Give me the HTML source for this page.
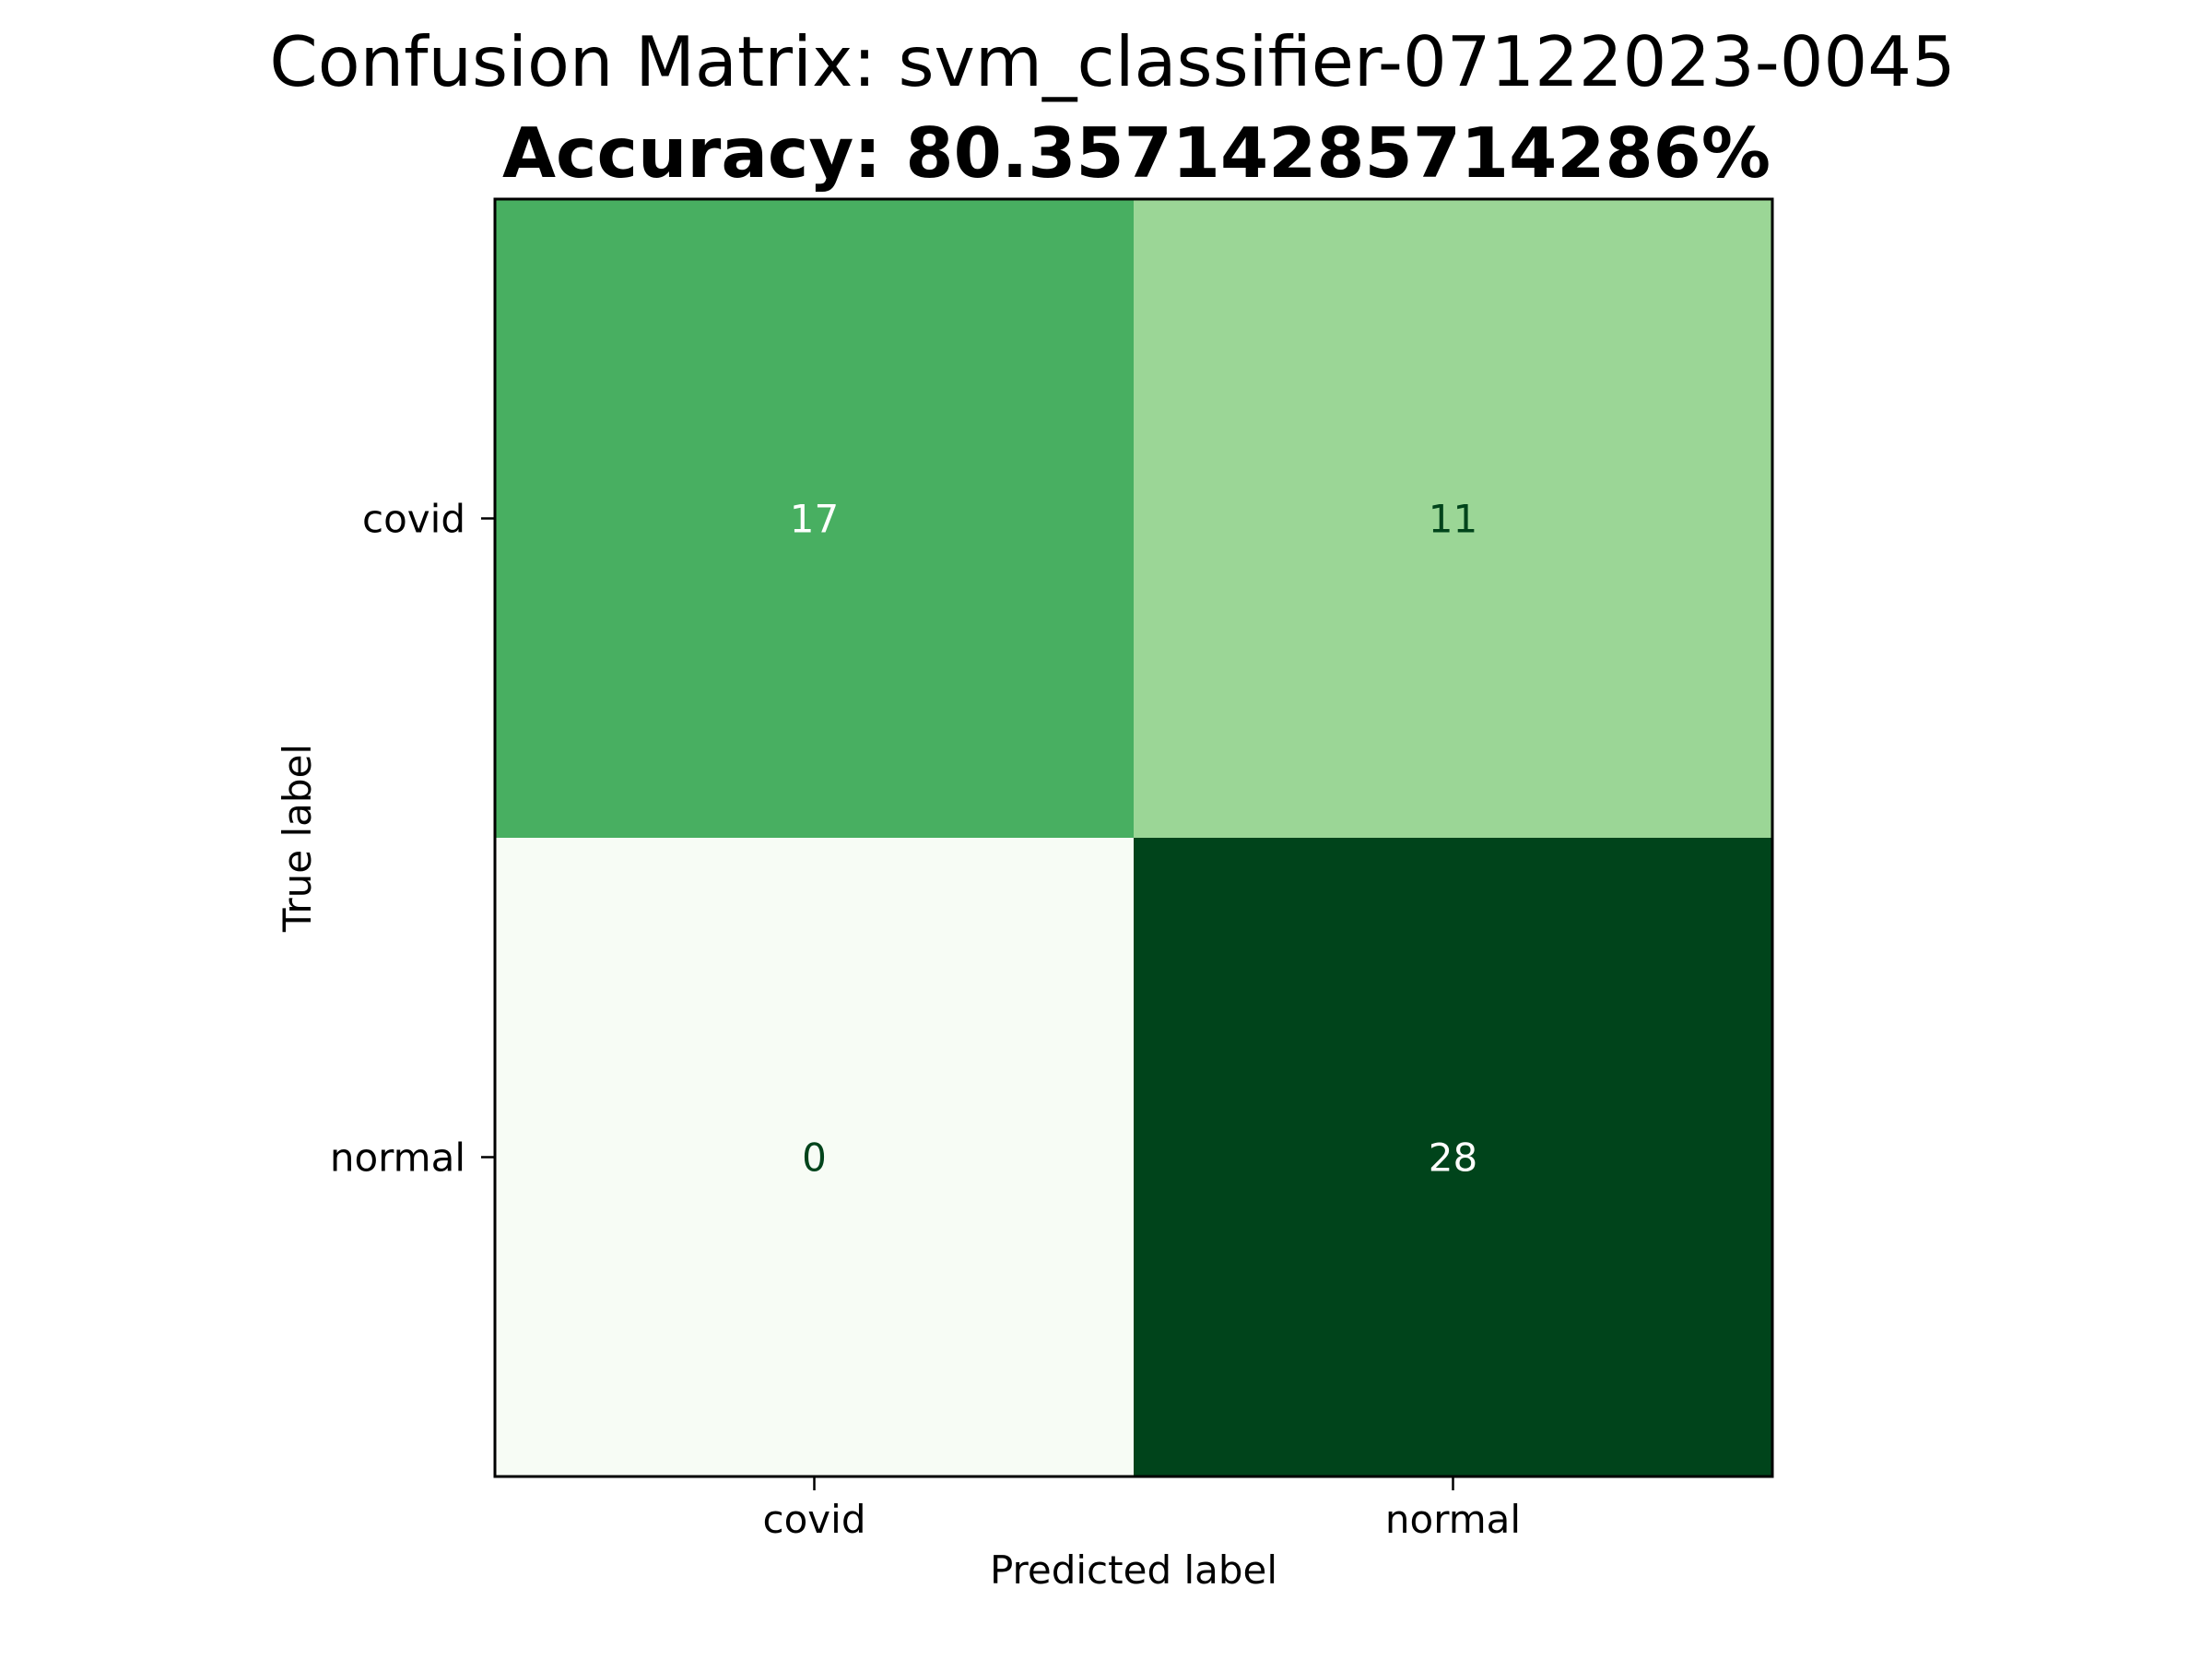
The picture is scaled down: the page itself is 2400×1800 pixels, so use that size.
<!DOCTYPE html>
<html><head><meta charset="utf-8"><style>
html,body{margin:0;padding:0;background:#fff;}
svg{display:block;}
text{font-family:"DejaVu Sans","Liberation Sans",sans-serif;}
</style></head><body>
<svg id="chart" width="2400" height="1800" viewBox="0 0 2400 1800">
<rect x="0" y="0" width="2400" height="1800" fill="#fff"/>
<text x="1207" y="93" font-size="75" text-anchor="middle" fill="#000">Confusion Matrix: svm_classifier-07122023-0045</text>
<text x="1233" y="192" font-size="75" font-weight="bold" text-anchor="middle" fill="#000">Accuracy: 80.35714285714286%</text>
<g id="cells"></g>
<g id="axes"></g>
<text x="1230" y="1718" font-size="42" text-anchor="middle" fill="#000">Predicted label</text>
<text x="0" y="0" font-size="42" text-anchor="middle" fill="#000" transform="translate(337,909) rotate(-90)">True label</text>
</svg>
<script>
const trueLabels = ["covid", "normal"];
const predLabels = ["covid", "normal"];
const row0 = [17, 11];
const row1 = [0, 28];
const matrix = [row0, row1];

const L = 537, T = 216, S = 1386;
const NS = "http://www.w3.org/2000/svg";
const stops = ["#f7fcf5","#e5f5e0","#c7e9c0","#a1d99b","#74c476","#41ab5d","#238b45","#006d2c","#00441b"];
function hex(h){return [1,3,5].map(i=>parseInt(h.substr(i,2),16));}
function cmap(t){
  t=Math.max(0,Math.min(1,t));
  const p=t*(stops.length-1), i=Math.min(Math.floor(p),stops.length-2), f=p-i;
  const a=hex(stops[i]), b=hex(stops[i+1]);
  return "rgb("+a.map((v,k)=>Math.round(v+(b[k]-v)*f)).join(",")+")";
}
const all = matrix.flat();
const vmin = Math.min(...all), vmax = Math.max(...all);
const nC = predLabels.length, nR = trueLabels.length;
const cw = S/nC, ch = S/nR;
function xPos(j){return L + cw*(j+0.5);}
function yPos(i){return T + ch*(i+0.5);}
const cells = document.getElementById("cells");
const axes = document.getElementById("axes");
function mk(tag, attrs, parent){
  const e=document.createElementNS(NS,tag);
  for(const k in attrs) e.setAttribute(k,attrs[k]);
  parent.appendChild(e); return e;
}
for(let i=0;i<nR;i++){
  for(let j=0;j<nC;j++){
    const v=matrix[i][j];
    const t=(v-vmin)/(vmax-vmin||1);
    const r=mk("rect",{x:L+cw*j,y:T+ch*i,width:cw+0.5,height:ch+0.5,fill:cmap(t)},cells);
    
    
    const tx=mk("text",{x:xPos(j),y:yPos(i)+15,"font-size":42,"text-anchor":"middle",fill:t>0.5?"#ffffff":"#00441b"},cells);
    tx.textContent=v;
    
    
  }
}
const frame=mk("rect",{x:L,y:T,width:S,height:S,fill:"none",stroke:"#000","stroke-width":3},axes);


predLabels.forEach((lab,j)=>{
  const tk=mk("line",{x1:xPos(j),x2:xPos(j),y1:T+S,y2:T+S+15,stroke:"#000","stroke-width":2.5},axes);
  
  
  const tl=mk("text",{x:xPos(j),y:1663,"font-size":42,"text-anchor":"middle",fill:"#000"},axes);
  tl.textContent=lab;
  
  
});
trueLabels.forEach((lab,i)=>{
  const tk=mk("line",{x1:L-15,x2:L,y1:yPos(i),y2:yPos(i),stroke:"#000","stroke-width":2.5},axes);
  
  
  const tl=mk("text",{x:L-32,y:yPos(i)+15,"font-size":42,"text-anchor":"end",fill:"#000"},axes);
  tl.textContent=lab;
  
  
});
</script>
</body></html>
